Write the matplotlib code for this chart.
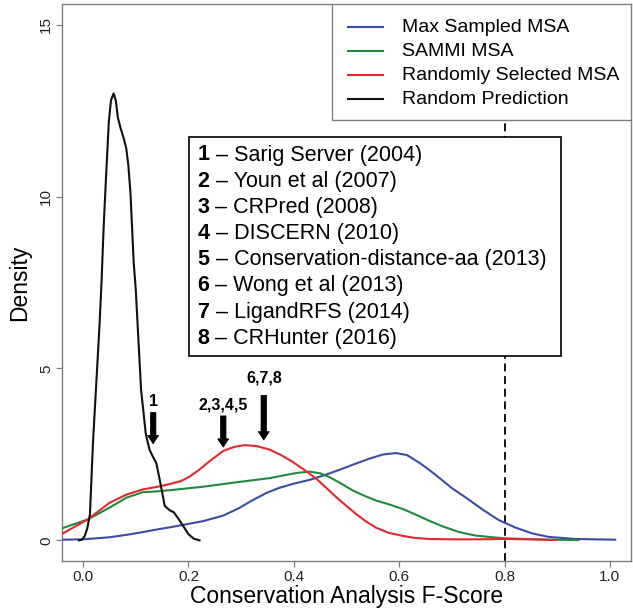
import matplotlib
matplotlib.use("Agg")
import matplotlib.pyplot as plt
from matplotlib.lines import Line2D
from matplotlib.patches import Rectangle

plt.rcParams['font.family'] = ['Liberation Sans', 'DejaVu Sans']

# ---------------- data ----------------
black_x = [-0.008, -0.002, 0.003, 0.008, 0.013, 0.019, 0.031, 0.035, 0.039, 0.044, 0.049,
           0.053, 0.058, 0.062, 0.066, 0.071, 0.077, 0.082, 0.086, 0.090, 0.096, 0.100,
           0.105, 0.110, 0.119, 0.126, 0.133, 0.139, 0.145, 0.155, 0.165, 0.172, 0.180,
           0.190, 0.200, 0.210, 0.221]
black_y = [0.0, 0.02, 0.12, 0.35, 0.75, 2.9, 6.2, 7.5, 9.1, 10.7, 12.2,
           12.8, 13.0, 12.8, 12.3, 12.0, 11.7, 11.4, 10.9, 10.1, 8.1, 7.3,
           5.85, 4.4, 3.1, 2.64, 2.42, 2.25, 1.8, 1.0, 0.87, 0.82, 0.65,
           0.42, 0.18, 0.05, 0.0]

red_x = [-0.04, 0.009, 0.050, 0.082, 0.113, 0.145, 0.165, 0.185, 0.202, 0.220, 0.240, 0.266,
         0.287, 0.307, 0.330, 0.354, 0.376, 0.398, 0.420, 0.443, 0.462, 0.481, 0.500,
         0.518, 0.537, 0.556, 0.580, 0.607, 0.630, 0.657, 0.700, 0.750, 0.800, 0.850, 0.897]
red_y = [0.19, 0.61, 1.09, 1.33, 1.48, 1.57, 1.64, 1.72, 1.85, 2.05, 2.30, 2.60,
         2.72, 2.77, 2.74, 2.64, 2.48, 2.28, 2.05, 1.79, 1.52, 1.25, 1.00,
         0.77, 0.55, 0.37, 0.22, 0.13, 0.07, 0.04, 0.03, 0.03, 0.04, 0.03, 0.01]

green_x = [-0.04, 0.009, 0.050, 0.082, 0.113, 0.145, 0.165, 0.228, 0.291, 0.354, 0.405,
           0.430, 0.450, 0.468, 0.490, 0.512, 0.535, 0.556, 0.580, 0.607, 0.630, 0.657,
           0.682, 0.714, 0.745, 0.777, 0.800, 0.840, 0.880, 0.940]
green_y = [0.35, 0.61, 0.95, 1.24, 1.40, 1.43, 1.46, 1.56, 1.69, 1.81, 1.96,
           2.00, 1.95, 1.84, 1.65, 1.45, 1.29, 1.16, 1.05, 0.91, 0.76, 0.57,
           0.41, 0.24, 0.14, 0.09, 0.06, 0.04, 0.02, 0.01]

blue_x = [-0.04, 0.0, 0.050, 0.082, 0.113, 0.145, 0.165, 0.200, 0.228, 0.266, 0.295,
          0.322, 0.348, 0.373, 0.400, 0.430, 0.455, 0.481, 0.512, 0.544, 0.570, 0.594,
          0.615, 0.638, 0.657, 0.680, 0.700, 0.726, 0.758, 0.789, 0.821, 0.853, 0.884,
          0.935, 1.01]
blue_y = [0.02, 0.03, 0.09, 0.16, 0.24, 0.33, 0.38, 0.48, 0.56, 0.72, 0.93,
          1.17, 1.38, 1.53, 1.65, 1.76, 1.88, 2.02, 2.20, 2.38, 2.50, 2.54,
          2.48, 2.26, 2.05, 1.77, 1.52, 1.25, 0.90, 0.59, 0.37, 0.20, 0.10,
          0.04, 0.02]

series_labels = ["Max Sampled MSA", "SAMMI MSA", "Randomly Selected MSA", "Random Prediction"]
series_colors = ["#3c4ca6", "#1f8a3e", "#e2282e", "#111111"]

threshold = 0.8

method_numbers = ["1", "2", "3", "4", "5", "6", "7", "8"]
method_names = ["Sarig Server (2004)", "Youn et al (2007)", "CRPred (2008)",
                "DISCERN (2010)", "Conservation-distance-aa (2013)", "Wong et al (2013)",
                "LigandRFS (2014)", "CRHunter (2016)"]

arrow_labels = ["1", "2,3,4,5", "6,7,8"]
arrow_x = [0.133, 0.266, 0.343]
arrow_top = [3.72, 3.62, 4.22]
arrow_tip = [2.81, 2.71, 2.92]
arrow_label_y = [3.90, 3.80, 4.58]

xticks = [0.0, 0.2, 0.4, 0.6, 0.8, 1.0]
yticks = [0, 5, 10, 15]

# ---------------- figure ----------------
W, H = 633, 614
fig = plt.figure(figsize=(W / 100, H / 100), dpi=100)
L, R, T, B = 62, 631, 4, 561
ax = fig.add_axes([L / W, 1 - B / H, (R - L) / W, (B - T) / H])
ax.set_xlim(-0.04, 1.04)
ax.set_ylim(-0.6, 15.6)

frame_col = "#7f7f7f"
for s in ax.spines.values():
    s.set_color(frame_col)
    s.set_linewidth(1.0)

lw = 1.5
ax.plot(blue_x, blue_y, color=series_colors[0], lw=lw, zorder=3)
ax.plot(green_x, green_y, color=series_colors[1], lw=lw, zorder=3)
ax.plot(red_x, red_y, color=series_colors[2], lw=lw, zorder=3)
ax.plot(black_x, black_y, color=series_colors[3], lw=lw, zorder=3)

ax.axvline(threshold, color="black", lw=1.3, dashes=(4.4, 2.6), zorder=2)

ax.set_xticks(xticks)
ax.set_xticklabels([f"{v:.1f}" for v in xticks])
ax.set_yticks(yticks)
ax.set_yticklabels([str(v) for v in yticks], rotation=90, va="center")
ax.tick_params(direction="out", length=4, width=0.9, color=frame_col,
               labelsize=11, labelcolor="#222222", pad=2.5)

ax.set_xlabel("Conservation Analysis F-Score", fontsize=16.5, labelpad=1)
ax.set_ylabel("Density", fontsize=16.5, labelpad=6)

# pixel -> axes-fraction helpers (layout only)
aw, ah = R - L, B - T
def fx(px):
    return (px - L) / aw
def fy(py):
    return 1 - (py - T) / ah

# legend (drawn as a framed key in the upper-right corner)
leg_box = Rectangle((fx(332), fy(120)), fx(R) - fx(332), fy(T) - fy(120),
                    transform=ax.transAxes, facecolor="white", edgecolor=frame_col,
                    lw=1.0, zorder=8)
ax.add_patch(leg_box)
for i, (lab, col) in enumerate(zip(series_labels, series_colors)):
    yc = fy(27 + i * 24)
    ax.add_line(Line2D([fx(348), fx(383)], [yc, yc], color=col, lw=lw,
                       transform=ax.transAxes, zorder=9))
    ax.text(fx(402), yc, lab, transform=ax.transAxes, fontsize=14,
            ha="left", va="center", zorder=9)

# method box
box = Rectangle((fx(189), fy(356)), fx(561) - fx(189), fy(136.7) - fy(356),
                transform=ax.transAxes, facecolor="white", edgecolor="black",
                lw=1.2, zorder=6)
ax.add_patch(box)
for i, (num, name) in enumerate(zip(method_numbers, method_names)):
    yc = fy(155 + i * 26.2)
    t = ax.text(fx(197.5), yc, num, transform=ax.transAxes, fontsize=15.5,
                fontweight="bold", ha="left", va="center", zorder=7)
    ax.annotate(" \u2013 " + name, xy=(1, 0.5), xycoords=t, fontsize=15.5,
                ha="left", va="center", zorder=7)

# arrows
for lab, x, top, tip, ly in zip(arrow_labels, arrow_x, arrow_top, arrow_tip, arrow_label_y):
    ax.annotate("", xy=(x, tip), xytext=(x, top),
                arrowprops=dict(arrowstyle="simple,head_length=0.6,head_width=0.8,tail_width=0.4",
                                fc="black", ec="black", lw=0.5, mutation_scale=10,
                                shrinkA=0, shrinkB=0), zorder=5)
    ax.text(x, ly, lab, fontsize=11.5, fontweight="bold", ha="center", va="baseline", zorder=5)

fig.savefig("out.png", dpi=100)
